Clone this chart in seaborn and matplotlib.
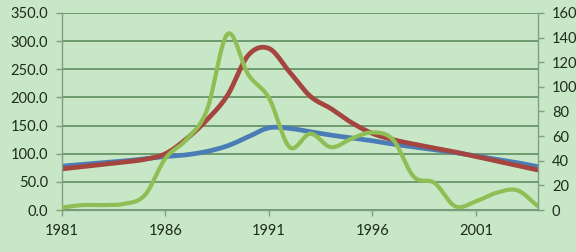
import numpy as np
import pandas as pd
import matplotlib
matplotlib.use("Agg")
import matplotlib.pyplot as plt
import seaborn as sns

years = list(range(1981, 2005))
red = [73, 77, 81, 85, 90, 100, 126, 160, 204, 275, 287, 245, 202, 180, 155, 136, 125, 117, 110, 103, 95, 87, 79, 71]
blue = [78, 81, 84, 87, 91, 95, 98, 104, 114, 130, 146, 145, 139, 133, 128, 123, 117, 112, 107, 102, 96, 90, 84, 77]
green = [2, 4, 4, 5, 12, 42, 57, 81, 143, 110, 91, 51, 62, 51, 58, 63, 57, 27, 22, 3, 7, 14, 16, 3]
xtick_years = [1981, 1986, 1991, 1996, 2001]
left_ticks = [0, 50, 100, 150, 200, 250, 300, 350]
right_ticks = [0, 20, 40, 60, 80, 100, 120, 140, 160]


def smooth(x, y, n=24):
    """Cubic Hermite (Catmull-Rom) path through the data points, for drawing only."""
    x = np.asarray(x, float)
    y = np.asarray(y, float)
    m = np.zeros_like(y)
    m[1:-1] = (y[2:] - y[:-2]) / 2.0
    m[0] = y[1] - y[0]
    m[-1] = y[-1] - y[-2]
    xs, ys = [], []
    for i in range(len(x) - 1):
        t = np.linspace(0, 1, n, endpoint=False)
        h00 = 2 * t**3 - 3 * t**2 + 1
        h10 = t**3 - 2 * t**2 + t
        h01 = -2 * t**3 + 3 * t**2
        h11 = t**3 - t**2
        xs.append(x[i] + t * (x[i + 1] - x[i]))
        ys.append(h00 * y[i] + h10 * m[i] + h01 * y[i + 1] + h11 * m[i + 1])
    xs.append([x[-1]])
    ys.append([y[-1]])
    return np.concatenate(xs), np.concatenate(ys)


sns.set_theme(style="white")
plt.rcParams['font.family'] = ['Lato', 'DejaVu Sans']

bg = '#c8e7c6'
grid_c = '#5e8e60'
spine_c = '#7f9f80'
text_c = '#1c2c1c'

fig = plt.figure(figsize=(5.76, 2.52), dpi=100, facecolor=bg)
ax = fig.add_axes([62 / 576, 1 - 210 / 252, (538 - 62) / 576, (210 - 13) / 252])
ax.set_facecolor(bg)
ax2 = ax.twinx()

for series, col in [(blue, '#4a7db6'), (red, '#a4453f')]:
    sx, sy = smooth(years, series)
    df = pd.DataFrame({'year': sx, 'v': sy})
    sns.lineplot(data=df, x='year', y='v', ax=ax, color=col, linewidth=3.4,
                 estimator=None, sort=False, solid_capstyle='round')

gx, gy = smooth(years, green)
dg = pd.DataFrame({'year': gx, 'v': gy})
sns.lineplot(data=dg, x='year', y='v', ax=ax2, color='#8fbe55', linewidth=3.0,
             estimator=None, sort=False, solid_capstyle='round')

ax.set_xlim(1981, 2004)
ax.set_ylim(0, 350)
ax2.set_ylim(0, 160)

ax.set_xticks(xtick_years)
ax.set_xticklabels([str(y) for y in xtick_years])
ax.set_yticks(left_ticks)
ax.set_yticklabels([f"{v:.1f}" for v in left_ticks])
ax2.set_yticks(right_ticks)
ax2.set_yticklabels([str(v) for v in right_ticks])

ax.yaxis.grid(True, color=grid_c, linewidth=1.2)
ax.set_axisbelow(True)
ax.set_xlabel('')
ax.set_ylabel('')
ax2.set_ylabel('')

for a in (ax, ax2):
    for s in a.spines.values():
        s.set_visible(False)
ax.spines['left'].set_visible(True)
ax.spines['bottom'].set_visible(True)
ax2.spines['right'].set_visible(True)
for s in (ax.spines['left'], ax.spines['bottom'], ax2.spines['right']):
    s.set_color(spine_c)
    s.set_linewidth(1.0)

ax.tick_params(axis='both', which='both', direction='out', length=4, width=1,
               color=spine_c, labelcolor=text_c, labelsize=10.5, pad=6,
               left=True, bottom=True)
ax2.tick_params(axis='y', direction='out', length=4, width=1, color=spine_c,
                labelcolor=text_c, labelsize=10.5, pad=6, right=True)

fig.savefig('out.png', dpi=100, facecolor=bg)
